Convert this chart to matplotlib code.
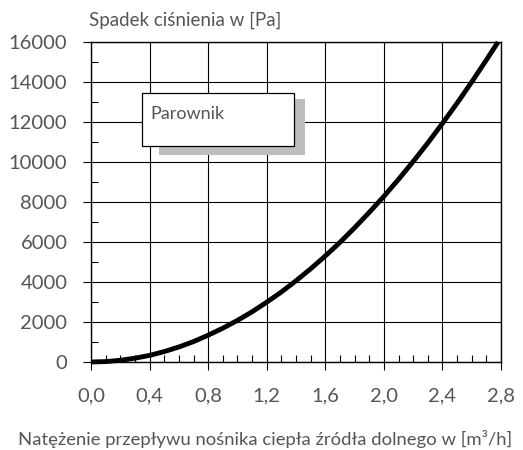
import matplotlib.pyplot as plt
from matplotlib.patches import Rectangle
from matplotlib.ticker import MultipleLocator

plt.rcParams['font.family'] = ['Lato', 'DejaVu Sans']

flow = [0.0, 0.1, 0.2, 0.3, 0.4, 0.5, 0.6, 0.7, 0.8, 0.9, 1.0, 1.1, 1.2, 1.3, 1.4,
        1.5, 1.6, 1.7, 1.8, 1.9, 2.0, 2.1, 2.2, 2.3, 2.4, 2.5, 2.6, 2.7, 2.78]
dp = [0, 20, 85, 190, 330, 520, 750, 1020, 1340, 1690, 2080, 2510, 2990, 3500, 4060,
      4660, 5300, 5980, 6710, 7480, 8280, 9130, 10020, 10950, 11930, 12940, 14000, 15100, 16000]
xticks = [0.0, 0.4, 0.8, 1.2, 1.6, 2.0, 2.4, 2.8]
xlabels = ['0,0', '0,4', '0,8', '1,2', '1,6', '2,0', '2,4', '2,8']
yticks = [0, 2000, 4000, 6000, 8000, 10000, 12000, 14000, 16000]

fig = plt.figure(figsize=(5.23, 4.5), dpi=100)
ax = fig.add_axes([91/523, 88/450, 410/523, 320/450])

ax.plot(flow, dp, color='black', lw=3.5, solid_capstyle='butt', zorder=5, clip_on=False)

ax.set_xlim(0, 2.8)
ax.set_ylim(0, 16000)
ax.set_xticks(xticks)
ax.set_xticklabels(xlabels)
ax.set_yticks(yticks)
ax.xaxis.set_minor_locator(MultipleLocator(0.1))
ax.yaxis.set_minor_locator(MultipleLocator(1000))
ax.grid(True, which='major', color='black', lw=0.8)
ax.tick_params(which='major', direction='out', length=6, width=0.8,
               labelsize=14.5, labelcolor='#555555', pad=12)
ax.tick_params(which='minor', direction='in', length=5, width=0.8)
ax.tick_params(axis='y', which='major', pad=11)
for s in ax.spines.values():
    s.set_linewidth(1.0)

# legenda z cieniem
ax.add_patch(Rectangle((0.166, 0.647), 0.356, 0.175, transform=ax.transAxes,
                       facecolor='#bdbdbd', edgecolor='none', zorder=6))
ax.add_patch(Rectangle((0.124, 0.675), 0.371, 0.166, transform=ax.transAxes,
                       facecolor='white', edgecolor='black', lw=0.9, zorder=7))
ax.text(150/523, 1 - 114/450, 'Parownik', transform=fig.transFigure, fontsize=13,
        color='#555555', va='center', ha='left', zorder=8)

fig.text(89/523, 1 - 20/450, 'Spadek ciśnienia w [Pa]', fontsize=13.5,
         color='#555555', va='center', ha='left')
fig.text(265/523, 1 - 439/450, 'Natężenie przepływu nośnika ciepła źródła dolnego w [m³/h]',
         fontsize=13.3, color='#555555', va='center', ha='center')

fig.savefig('out.png', dpi=100)
